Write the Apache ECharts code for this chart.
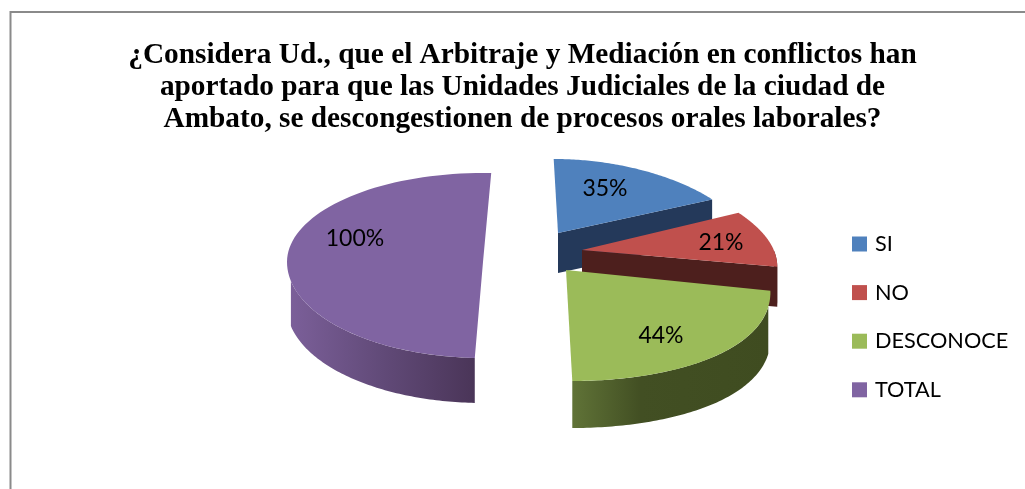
<!DOCTYPE html>
<html><head><meta charset="utf-8">
<style>html,body{margin:0;padding:0;background:#fff}#c{width:1025px;height:489px}</style>
<script src="https://cdn.jsdelivr.net/npm/echarts@6/dist/echarts.min.js"></script>
</head><body><div id="c"></div>
<script>
var titleLines = ['¿Considera Ud., que el Arbitraje y Mediación en conflictos han',
  'aportado para que las Unidades Judiciales de la ciudad de',
  'Ambato, se descongestionen de procesos orales laborales?'];
var categories = ['SI', 'NO', 'DESCONOCE', 'TOTAL'];
var values = [35, 21, 44, 100];
var topColors = ['#4f81bd', '#c0504d', '#9bbb59', '#8064a2'];

// layout of the exploded 3D pie (not data)
var layout = {
  vanishX: 534, refY: 265,
  persp: [590, 590, 590, Infinity],
  rot: [0, 0, 0, 0.042],
  rx: [198, 198, 198, 196],
  apex: [[558, 233], [582, 250], [566, 270], [483, 262]],
  ryBack: [74, 82, 90, 89],
  ryFront: [90, 90, 111, 96],
  depth: [40, 40, 47, 45],
  wallInset: [0, 0, 0.15, 0],
  wallInsetEnd: [0, 0, 0, 0.2],
  labelOff: [[47, -44], [139, -7], [95, 66], [-128, -23]],
  faceColor: ['#24395a', '#4d1f1d'],
  wall: [
    [[0, '#24395a'], [1, '#24395a']],
    [[0, '#4d1f1d'], [1, '#4d1f1d']],
    [[0, '#607337'], [0.35, '#424f23'], [1, '#3f4c20']],
    [[0, '#7b5f99'], [0.5, '#614a78'], [1, '#4a3558']]
  ]
};
var total = values.reduce(function (a, b) { return a + b; }, 0);

function project(i, theta, z) {
  var c = Math.cos(theta), s = Math.sin(theta);
  var x = layout.apex[i][0] + layout.rx[i] * s;
  var y = layout.apex[i][1] - (c > 0 ? layout.ryBack[i] : layout.ryFront[i]) * c;
  var k = 1 + (y - layout.refY) / layout.persp[i];
  return [layout.vanishX + (x - layout.vanishX) * k, y + z];
}
function apexPt(i, z) { return [layout.apex[i][0], layout.apex[i][1] + z]; }
function arc(i, a0, a1, z) {
  var pts = [], n = 80;
  for (var j = 0; j <= n; j++) pts.push(project(i, a0 + (a1 - a0) * j / n, z));
  return pts;
}
function renderSlice(params, api) {
  var i = params.seriesIndex, v = api.value(0);
  var before = 0;
  for (var j = 0; j < i; j++) before += values[j];
  var a0 = before / total * 2 * Math.PI + layout.rot[i], a1 = (before + v) / total * 2 * Math.PI + layout.rot[i];
  var d = layout.depth[i], kids = [];
  // radial cut face, for the slices whose near edge shows
  if (i < 2) {
    kids.push({ type: 'polygon', shape: { points: [apexPt(i, 0), project(i, a1, 0), project(i, a1, d), apexPt(i, d)] },
      style: { fill: layout.faceColor[i] } });
  }
  // outer wall: the part of the rim on the front half
  var w0 = Math.max(a0 + layout.wallInset[i], Math.PI / 2);
  var w1 = Math.min(a1, 3 * Math.PI / 2 - layout.wallInsetEnd[i]);
  if (w1 > w0) {
    var stops = layout.wall[i].map(function (p) { return { offset: p[0], color: p[1] }; });
    kids.push({ type: 'polygon', shape: { points: arc(i, w0, w1, 0).concat(arc(i, w1, w0, d)) },
      style: { fill: new echarts.graphic.LinearGradient(0, 0, 1, 0, stops) } });
  }
  // top face
  kids.push({ type: 'polygon', shape: { points: [apexPt(i, 0)].concat(arc(i, a0, a1, 0)) },
    style: { fill: topColors[i] } });
  kids.push({ type: 'text', style: {
    text: v + '%',
    x: layout.apex[i][0] + layout.labelOff[i][0], y: layout.apex[i][1] + layout.labelOff[i][1],
    align: 'center', verticalAlign: 'middle', fill: '#000', font: '23px Lato' } });
  return { type: 'group', children: kids };
}

var chart = echarts.init(document.getElementById('c'), null, { renderer: 'canvas' });
chart.setOption({
  animation: false,
  backgroundColor: '#fff',
  graphic: [{ type: 'polyline', silent: true,
    shape: { points: [[10.5, 489], [10.5, 12], [1025, 12]] },
    style: { stroke: '#8a8a8a', lineWidth: 2, fill: null } }],
  title: {
    text: titleLines.join('\n'), left: 517.5, top: 34, textAlign: 'center',
    textStyle: { fontFamily: 'Liberation Serif', fontWeight: 'bold', fontSize: 29.3, lineHeight: 32, color: '#000' }
  },
  legend: {
    orient: 'vertical', left: 852, top: 233, padding: 0, icon: 'rect', itemWidth: 15, itemHeight: 15, itemGap: 26.6,
    selectedMode: false, data: categories,
    textStyle: { fontFamily: 'Lato', fontSize: 21.7, color: '#000', padding: [0, 0, 0, 3] }
  },
  series: categories.map(function (name, i) {
    return { type: 'custom', name: name, coordinateSystem: 'none', silent: true,
      itemStyle: { color: topColors[i] }, renderItem: renderSlice, data: [[values[i]]] };
  })
});
</script></body></html>
